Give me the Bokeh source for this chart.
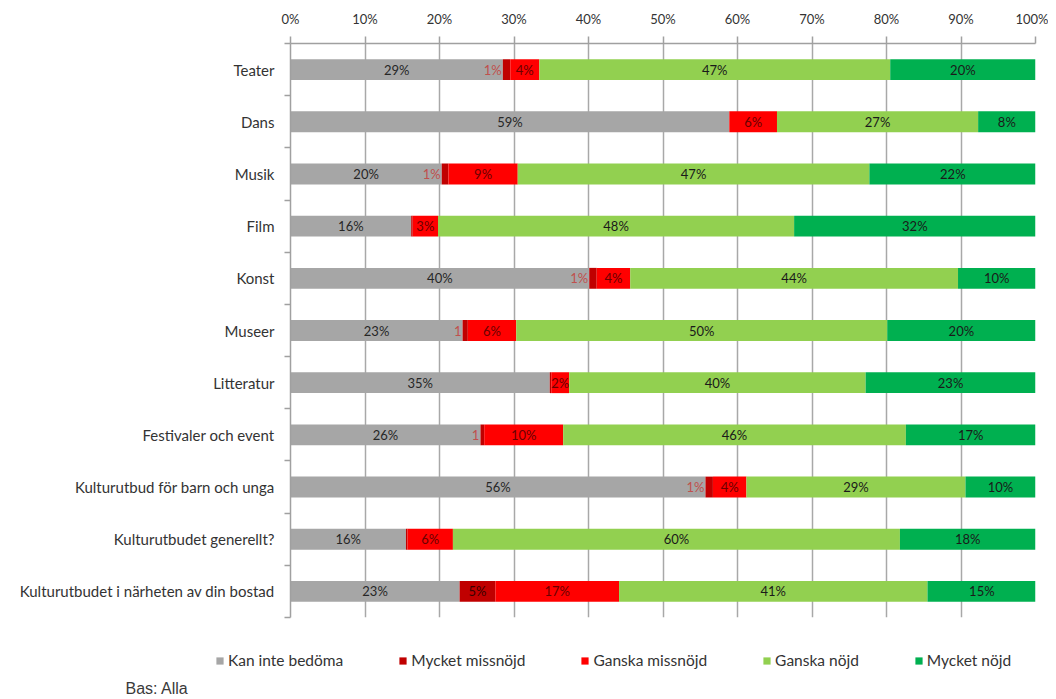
from bokeh.plotting import figure
from bokeh.layouts import column
from bokeh.models import (ColumnDataSource, FixedTicker, PrintfTickFormatter,
                          Legend, LegendItem, Label, Range1d)
from bokeh.embed import file_html
from bokeh.resources import INLINE
from bokeh.core.properties import value

categories = ["Teater", "Dans", "Musik", "Film", "Konst", "Museer", "Litteratur",
              "Festivaler och event", "Kulturutbud för barn och unga",
              "Kulturutbudet generellt?", "Kulturutbudet i närheten av din bostad"]

series_names = ["Kan inte bedöma", "Mycket missnöjd", "Ganska missnöjd",
                "Ganska nöjd", "Mycket nöjd"]

kan_inte = [28.5, 58.9, 20.3, 16.2, 40.1, 23.1, 34.8, 25.5, 55.7, 15.5, 22.7]
mycket_miss = [1.0, 0.0, 0.9, 0.2, 1.0, 0.7, 0.2, 0.5, 1.0, 0.2, 4.8]
ganska_miss = [3.9, 6.4, 9.3, 3.4, 4.5, 6.5, 2.4, 10.6, 4.5, 6.1, 16.6]
ganska_nojd = [47.1, 27.0, 47.2, 47.8, 44.0, 49.8, 39.8, 46.0, 29.4, 60.0, 41.4]
mycket_nojd = [19.5, 7.7, 22.4, 32.4, 10.4, 19.9, 22.8, 17.4, 9.4, 18.2, 14.6]

kan_labels = ["29%", "59%", "20%", "16%", "40%", "23%", "35%", "26%", "56%", "16%", "23%"]
mm_labels = ["1%", "", "1%", "", "1%", "1", "", "1", "1%", "", "5%"]
gm_labels = ["4%", "6%", "9%", "3%", "4%", "6%", "2%", "10%", "4%", "6%", "17%"]
gn_labels = ["47%", "27%", "47%", "48%", "44%", "50%", "40%", "46%", "29%", "60%", "41%"]
mn_labels = ["20%", "8%", "22%", "32%", "10%", "20%", "23%", "17%", "10%", "18%", "15%"]

x_ticks = [0, 10, 20, 30, 40, 50, 60, 70, 80, 90, 100]
base_note = "Bas: Alla"

colors = ["#a6a6a6", "#c00000", "#ff0000", "#92d050", "#00b050"]
label_colors = ["#262626", "#3a0000", "#6a0000", "#1a1a1a", "#1a1a1a"]
FONT = "Lato"
W = 1048

n = len(categories)
ypos = [n - 1 - i for i in range(n)]
series = [kan_inte, mycket_miss, ganska_miss, ganska_nojd, mycket_nojd]
labels = [kan_labels, mm_labels, gm_labels, gn_labels, mn_labels]

p = figure(width=W, height=630, output_backend="svg", toolbar_location=None,
           x_range=Range1d(0, 100), y_range=Range1d(-0.5, n - 0.5),
           x_axis_location="above", min_border_left=290, min_border_right=13,
           min_border_top=43, min_border_bottom=13)
p.outline_line_color = None
p.background_fill_color = "white"

# Grid
p.xgrid.ticker = FixedTicker(ticks=x_ticks)
p.xgrid.grid_line_color = "#a8a8a8"
p.xgrid.grid_line_width = 1.5
p.ygrid.visible = False

# Top axis
p.xaxis.ticker = FixedTicker(ticks=x_ticks)
p.xaxis.formatter = PrintfTickFormatter(format="%d%%")
p.xaxis.axis_line_color = "#a0a0a0"
p.xaxis.axis_line_width = 1.5
p.xaxis.major_tick_line_color = "#a0a0a0"
p.xaxis.major_tick_line_width = 1.5
p.xaxis.major_tick_out = 7
p.xaxis.major_tick_in = 0
p.xaxis.minor_tick_line_color = None
p.xaxis.major_label_text_font = FONT
p.xaxis.major_label_text_font_size = "13px"
p.xaxis.major_label_text_color = "#333333"
p.xaxis.major_label_standoff = 10

# Left axis
p.yaxis.ticker = FixedTicker(ticks=ypos, minor_ticks=[k - 0.5 for k in range(n + 1)])
p.yaxis.major_label_overrides = {float(y): c for y, c in zip(ypos, categories)}
p.yaxis.axis_line_color = "#a0a0a0"
p.yaxis.axis_line_width = 1.5
p.yaxis.major_tick_line_color = None
p.yaxis.major_tick_out = 0
p.yaxis.major_tick_in = 0
p.yaxis.minor_tick_line_color = "#a0a0a0"
p.yaxis.minor_tick_line_width = 1.5
p.yaxis.minor_tick_out = 6
p.yaxis.minor_tick_in = 0
p.yaxis.major_label_text_font = FONT
p.yaxis.major_label_text_font_size = "15px"
p.yaxis.major_label_text_color = "#333333"
p.yaxis.major_label_standoff = 10

# Bars
data = {"y": ypos}
keys = ["s%d" % k for k in range(5)]
for k, s in zip(keys, series):
    data[k] = s
src = ColumnDataSource(data)
p.hbar_stack(keys, y="y", height=0.4, color=colors, line_color=None, source=src)

# Labels
cum = [0.0] * n
for si, (s, labs) in enumerate(zip(series, labels)):
    cx, ly, lt, la, lc = [], [], [], [], []
    for i in range(n):
        start = cum[i]
        if labs[i]:
            if si == 1 and s[i] < 2:
                cx.append(start - 0.15)
                la.append("right")
                lc.append("#c0504d")
            else:
                cx.append(start + s[i] / 2)
                la.append("center")
                lc.append(label_colors[si])
            ly.append(ypos[i])
            lt.append(labs[i])
        cum[i] = start + s[i]
    lsrc = ColumnDataSource(dict(x=cx, y=ly, t=lt, a=la, c=lc))
    p.text(x="x", y="y", text="t", source=lsrc, text_align="a", text_color="c",
           text_baseline="middle", text_font=value(FONT), text_font_size="13px")

# Legend strip (own figure, frame spans the full width)
LH = 68
lf = figure(width=W, height=LH, output_backend="svg", toolbar_location=None,
            x_range=Range1d(0, 100), y_range=Range1d(-0.5, n - 0.5),
            x_axis_type=None, y_axis_type=None, min_border=0)
lf.frame_align = False
lf.outline_line_color = None
lf.xgrid.visible = False
lf.ygrid.visible = False
legend_renderers = lf.hbar_stack(keys, y="y", height=0.4, color=colors, line_color=None,
                                 source=src, visible=False)
legend = Legend(items=[LegendItem(label=nm, renderers=[r]) for nm, r in zip(series_names, legend_renderers)],
                orientation="horizontal", location=(215, 29), spacing=55,
                glyph_width=9, glyph_height=9, label_standoff=4, padding=4,
                label_text_font=FONT, label_text_font_size="15.5px", label_text_color="#333333",
                border_line_color=None, background_fill_alpha=0)
lf.add_layout(legend, "center")

note = Label(x=125, y=10, x_units="screen", y_units="screen", text=base_note,
             text_font="Liberation Sans", text_font_size="16px", text_color="#3a3a3a",
             text_baseline="middle")
lf.add_layout(note)

layout = column(p, lf, spacing=0)
open("out.html", "w").write(file_html(layout, INLINE))
